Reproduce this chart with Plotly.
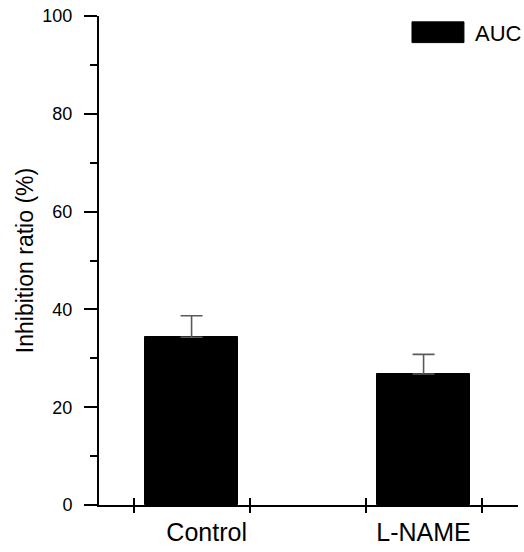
import plotly.graph_objects as go

categories = ["Control", "L-NAME"]
auc_values = [34.3, 26.8]
auc_errors = [4.4, 4.0]
y_tick_values = [0, 20, 40, 60, 80, 100]
x_tick_marks = [-0.25, 0.25, 0.75, 1.25]
series_name = "AUC"

FONT = "Liberation Sans, Arial, sans-serif"
XR = [-0.399, 1.407]
positions = list(range(len(categories)))
# the reference's "Control" label sits slightly right of its bar centre
label_shift = [0.065, 0.0]

fig = go.Figure()
fig.add_trace(go.Bar(
    x=positions, y=auc_values, name=series_name, width=0.4,
    marker=dict(color="black", line=dict(color="black", width=1)),
    error_y=dict(type="data", symmetric=False, array=auc_errors,
                 arrayminus=[0] * len(auc_errors),
                 color="#5a5a5a", thickness=1.6, width=11),
    showlegend=False,
))

fig.update_layout(
    width=524, height=552,
    margin=dict(l=99, r=6, t=16, b=40),
    paper_bgcolor="white", plot_bgcolor="white",
    font=dict(family=FONT, color="black"),
    bargap=0,
    xaxis=dict(
        range=XR, tickvals=[p + s for p, s in zip(positions, label_shift)],
        ticktext=categories,
        ticks="", showgrid=False, zeroline=False,
        showline=True, linecolor="black", linewidth=2,
        tickfont=dict(size=25, family=FONT), ticklabelstandoff=4,
        ticklabeloverflow="allow",
    ),
    xaxis2=dict(
        overlaying="x", anchor="y", range=XR, tickvals=x_tick_marks,
        ticks="outside", ticklen=7, tickwidth=2, tickcolor="black",
        showticklabels=False, showgrid=False, zeroline=False, showline=False,
    ),
    xaxis3=dict(
        overlaying="x", anchor="y", range=XR, tickvals=x_tick_marks,
        ticks="inside", ticklen=7, tickwidth=2, tickcolor="black",
        showticklabels=False, showgrid=False, zeroline=False, showline=False,
    ),
    yaxis=dict(
        range=[0, 100], tickvals=y_tick_values,
        ticks="outside", ticklen=13, tickwidth=2, tickcolor="black",
        minor=dict(dtick=10, tick0=0, ticks="outside", ticklen=7,
                   tickwidth=2, tickcolor="black", showgrid=False),
        showgrid=False, zeroline=False,
        showline=True, linecolor="black", linewidth=2,
        tickfont=dict(size=18, family=FONT), ticklabelstandoff=8,
        ticklabeloverflow="allow",
        title=dict(text="Inhibition ratio (%)", font=dict(size=23, family=FONT),
                   standoff=2),
    ),
)

# dummy traces to activate overlay axes
fig.add_trace(go.Scatter(x=[None], y=[None], xaxis="x2", showlegend=False, hoverinfo="skip"))
fig.add_trace(go.Scatter(x=[None], y=[None], xaxis="x3", showlegend=False, hoverinfo="skip"))

# legend key
fig.add_shape(type="rect", xref="paper", yref="paper",
              x0=0.747, x1=0.871, y0=0.9456, y1=0.988,
              fillcolor="black", line=dict(color="black", width=1))
fig.add_annotation(text=series_name, xref="paper", yref="paper",
                   x=0.893, y=0.965, xanchor="left", yanchor="middle",
                   showarrow=False, font=dict(size=22, family=FONT, color="black"))

fig.write_html(
    "out.html",
    config={"displayModeBar": False},
    post_script="document.body.style.margin='0';document.body.style.overflow='hidden';",
)
